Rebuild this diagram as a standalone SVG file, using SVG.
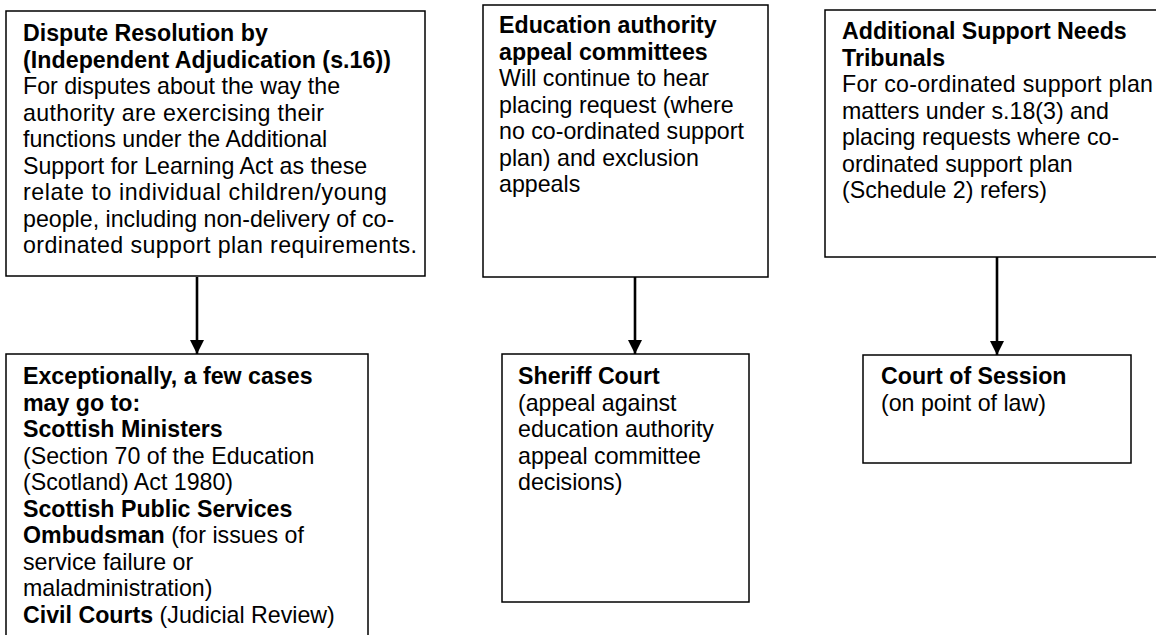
<svg xmlns="http://www.w3.org/2000/svg" width="1156" height="635" viewBox="0 0 1156 635">
<style>
.box{fill:#fff;stroke:#000;stroke-width:1.5}
text{font-family:"Liberation Sans",Arial,sans-serif;font-size:23.2px;fill:#000}
.b{font-weight:bold}
.conn{stroke:#000;stroke-width:2.6;fill:none}
</style>
<defs>
<marker id="ah" markerUnits="userSpaceOnUse" markerWidth="14" markerHeight="14" viewBox="0 0 14 14" refX="14" refY="7" orient="auto">
<path d="M0,0 L14,7 L0,14 z" fill="#000"/>
</marker>
</defs>
<rect width="1156" height="635" fill="#fff"/>
<g id="connectors">
<line class="conn" x1="197" y1="277" x2="197" y2="354" marker-end="url(#ah)"/>
<line class="conn" x1="635" y1="277" x2="635" y2="354" marker-end="url(#ah)"/>
<line class="conn" x1="997" y1="257" x2="997" y2="355" marker-end="url(#ah)"/>
</g>
<g id="node-dispute">
<rect class="box" x="6" y="11" width="419" height="265"/>
<text x="23" y="41">
<tspan class="b" x="23">Dispute Resolution by</tspan>
<tspan class="b" x="23" dy="26.5" textLength="368" lengthAdjust="spacing">(Independent Adjudication (s.16))</tspan>
<tspan x="23" dy="26.5">For disputes about the way the</tspan>
<tspan x="23" dy="26.5" textLength="301" lengthAdjust="spacing">authority are exercising their</tspan>
<tspan x="23" dy="26.5">functions under the Additional</tspan>
<tspan x="23" dy="26.5">Support for Learning Act as these</tspan>
<tspan x="23" dy="26.5" textLength="364" lengthAdjust="spacing">relate to individual children/young</tspan>
<tspan x="23" dy="26.5">people, including non-delivery of co-</tspan>
<tspan x="23" dy="26.5" textLength="394" lengthAdjust="spacing">ordinated support plan requirements.</tspan>
</text>
</g>
<g id="node-appeal">
<rect class="box" x="483" y="5" width="285" height="272"/>
<text x="499" y="33">
<tspan class="b" x="499">Education authority</tspan>
<tspan class="b" x="499" dy="26.5">appeal committees</tspan>
<tspan x="499" dy="26.5">Will continue to hear</tspan>
<tspan x="499" dy="26.5">placing request (where</tspan>
<tspan x="499" dy="26.5">no co-ordinated support</tspan>
<tspan x="499" dy="26.5">plan) and exclusion</tspan>
<tspan x="499" dy="26.5">appeals</tspan>
</text>
</g>
<g id="node-tribunals">
<rect class="box" x="825" y="10" width="345" height="247"/>
<text x="842" y="39">
<tspan class="b" x="842">Additional Support Needs</tspan>
<tspan class="b" x="842" dy="26.5">Tribunals</tspan>
<tspan x="842" dy="26.5" textLength="311" lengthAdjust="spacing">For co-ordinated support plan</tspan>
<tspan x="842" dy="26.5">matters under s.18(3) and</tspan>
<tspan x="842" dy="26.5">placing requests where co-</tspan>
<tspan x="842" dy="26.5">ordinated support plan</tspan>
<tspan x="842" dy="26.5">(Schedule 2) refers)</tspan>
</text>
</g>
<g id="node-exceptional">
<rect class="box" x="6" y="354" width="362" height="300"/>
<text x="23" y="384">
<tspan class="b" x="23">Exceptionally, a few cases</tspan>
<tspan class="b" x="23" dy="26.5">may go to:</tspan>
<tspan class="b" x="23" dy="26.5">Scottish Ministers</tspan>
<tspan x="23" dy="26.5">(Section 70 of the Education</tspan>
<tspan x="23" dy="26.5">(Scotland) Act 1980)</tspan>
<tspan class="b" x="23" dy="26.5">Scottish Public Services</tspan>
<tspan class="b" x="23" dy="26.5">Ombudsman</tspan><tspan> (for issues of</tspan>
<tspan x="23" dy="26.5">service failure or</tspan>
<tspan x="23" dy="26.5">maladministration)</tspan>
<tspan class="b" x="23" dy="26.5">Civil Courts</tspan><tspan> (Judicial Review)</tspan>
</text>
</g>
<g id="node-sheriff">
<rect class="box" x="502" y="354" width="247" height="248"/>
<text x="518" y="384">
<tspan class="b" x="518">Sheriff Court</tspan>
<tspan x="518" dy="26.5">(appeal against</tspan>
<tspan x="518" dy="26.5">education authority</tspan>
<tspan x="518" dy="26.5">appeal committee</tspan>
<tspan x="518" dy="26.5">decisions)</tspan>
</text>
</g>
<g id="node-session">
<rect class="box" x="863" y="355" width="268" height="108"/>
<text x="881" y="384">
<tspan class="b" x="881">Court of Session</tspan>
<tspan x="881" dy="26.5">(on point of law)</tspan>
</text>
</g>
</svg>
